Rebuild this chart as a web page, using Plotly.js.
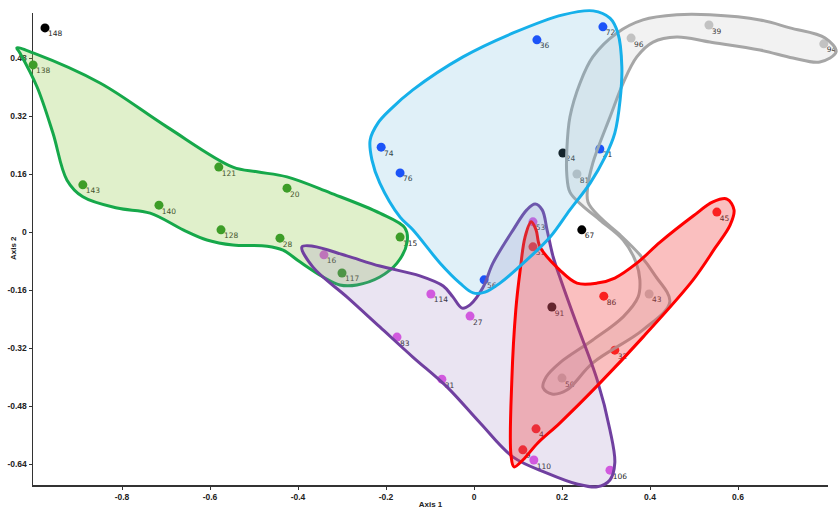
<!DOCTYPE html>
<html>
<head>
<meta charset="utf-8">
<script src="https://cdn.plot.ly/plotly-3.0.1.min.js"></script>
<style>html,body{margin:0;padding:0;background:#fff;}#chart{width:838px;height:509px;}</style>
</head>
<body>
<div id="chart"></div>
<script>
// ---- point data (Axis 1, Axis 2) ----
const blackLabels = ['148','24','67','91'];
const blackX = [-0.975, 0.202, 0.245, 0.177];
const blackY = [0.563, 0.218, 0.006, -0.207];

const greenLabels = ['138','143','121','20','140','128','28','115','117'];
const greenX = [-1.002, -0.889, -0.580, -0.425, -0.716, -0.575, -0.441, -0.168, -0.300];
const greenY = [0.461, 0.130, 0.179, 0.121, 0.074, 0.006, -0.017, -0.014, -0.113];

const blueLabels = ['36','72','74','76','21','56'];
const blueX = [0.143, 0.293, -0.211, -0.168, 0.286, 0.023];
const blueY = [0.530, 0.566, 0.234, 0.163, 0.229, -0.132];

const greyLabels = ['96','39','94','81','43','50'];
const greyX = [0.357, 0.534, 0.795, 0.234, 0.398, 0.200];
const greyY = [0.535, 0.571, 0.519, 0.160, -0.171, -0.403];

const redLabels = ['45','86','32','4','9','51'];
const redX = [0.552, 0.295, 0.320, 0.141, 0.111, 0.134];
const redY = [0.055, -0.177, -0.326, -0.543, -0.601, -0.041];

const pinkLabels = ['53','16','114','27','83','31','110','106'];
const pinkX = [0.134, -0.341, -0.098, -0.009, -0.175, -0.073, 0.136, 0.309];
const pinkY = [0.028, -0.063, -0.171, -0.232, -0.290, -0.406, -0.629, -0.657];

// ---- hull outlines (Axis 1, Axis 2) ----
const greenHullX = [-1.039,-1.002,-0.850,-0.698,-0.548,-0.493,-0.425,-0.327,-0.214,-0.157,-0.152,-0.175,-0.214,-0.266,-0.305,-0.343,-0.395,-0.434,-0.470,-0.548,-0.607,-0.661,-0.736,-0.811,-0.889,-0.925,-0.957,-0.993,-1.032];
const greenHullY = [0.508,0.494,0.411,0.290,0.179,0.166,0.152,0.108,0.052,0.011,-0.028,-0.086,-0.124,-0.146,-0.146,-0.124,-0.083,-0.050,-0.039,-0.036,-0.022,0.006,0.052,0.066,0.097,0.143,0.273,0.400,0.494];

const blueHullX = [0.089,0.202,0.271,0.309,0.327,0.336,0.332,0.320,0.298,0.264,0.218,0.173,0.120,0.059,0.025,-0.002,-0.032,-0.077,-0.139,-0.168,-0.214,-0.232,-0.236,-0.218,-0.191,-0.139,-0.025];
const blueHullY = [0.549,0.599,0.610,0.590,0.549,0.455,0.364,0.273,0.207,0.135,0.061,-0.014,-0.077,-0.141,-0.166,-0.168,-0.141,-0.086,0.006,0.041,0.135,0.199,0.254,0.301,0.337,0.392,0.483];

const greyHullX = [0.325,0.270,0.241,0.218,0.211,0.211,0.218,0.245,0.286,0.339,0.368,0.377,0.373,0.339,0.270,0.195,0.164,0.157,0.177,0.211,0.270,0.384,0.445,0.411,0.377,0.332,0.286,0.259,0.259,0.270,0.280,0.309,0.339,0.370,0.407,0.461,0.536,0.650,0.725,0.786,0.823,0.798,0.718,0.650,0.536,0.461,0.384];
const greyHullY = [0.549,0.483,0.411,0.317,0.226,0.157,0.110,0.074,0.033,-0.022,-0.083,-0.132,-0.179,-0.234,-0.298,-0.361,-0.400,-0.430,-0.447,-0.436,-0.361,-0.270,-0.193,-0.119,-0.063,-0.008,0.041,0.083,0.130,0.190,0.226,0.317,0.411,0.483,0.524,0.538,0.524,0.502,0.480,0.469,0.497,0.535,0.563,0.585,0.599,0.599,0.585];

const redHullX = [0.130,0.141,0.150,0.195,0.234,0.280,0.320,0.370,0.423,0.498,0.543,0.575,0.591,0.582,0.548,0.498,0.384,0.286,0.195,0.145,0.111,0.091,0.084,0.086,0.095,0.105,0.116];
const redHullY = [0.028,0.006,-0.041,-0.105,-0.141,-0.141,-0.127,-0.086,-0.028,0.044,0.083,0.091,0.061,0.019,-0.044,-0.132,-0.290,-0.417,-0.527,-0.582,-0.629,-0.648,-0.615,-0.408,-0.215,-0.105,-0.014];

const purpleHullX = [-0.391,-0.366,-0.289,-0.214,-0.123,-0.070,-0.048,-0.027,-0.009,0.020,0.043,0.089,0.120,0.139,0.155,0.166,0.180,0.195,0.230,0.280,0.309,0.320,0.309,0.280,0.234,0.166,0.089,0.014,-0.061,-0.139,-0.214,-0.289,-0.366];
const purpleHullY = [-0.041,-0.039,-0.066,-0.094,-0.121,-0.149,-0.179,-0.210,-0.201,-0.154,-0.086,0.006,0.061,0.077,0.061,0.006,-0.069,-0.124,-0.243,-0.408,-0.546,-0.637,-0.684,-0.703,-0.695,-0.665,-0.621,-0.527,-0.428,-0.345,-0.262,-0.179,-0.097];

// ---- axis ticks ----
const xTickVals = [-0.8,-0.6,-0.4,-0.2,0,0.2,0.4,0.6];
const xTickText = ['-0.8','-0.6','-0.4','-0.2','0','0.2','0.4','0.6'];
const yTickVals = [0.48,0.32,0.16,0,-0.16,-0.32,-0.48,-0.64];
const yTickText = ['0.48','0.32','0.16','0','-0.16','-0.32','-0.48','-0.64'];

function closeRing(a){ return a.concat([a[0]]); }

const labelFont = {family:'DejaVu Sans, sans-serif', size:7.5, color:'#262626'};
function pts(x,y,color){
  return {type:'scatter', mode:'markers', x:x, y:y, cliponaxis:false,
    marker:{size:9, color:color}, xaxis:'x2', yaxis:'y2', hoverinfo:'skip', showlegend:false};
}
function labels(x,y,txt){
  return {type:'scatter', mode:'markers+text', x:x, y:y, text:txt, cliponaxis:false,
    textposition:'bottom right', textfont:labelFont,
    marker:{size:3, opacity:0, color:'#000'},
    xaxis:'x2', yaxis:'y2', hoverinfo:'skip', showlegend:false};
}
function hull(x,y,line,fill){
  return {type:'scatter', mode:'lines', x:closeRing(x), y:closeRing(y), fill:'toself',
    fillcolor:fill, line:{color:line, width:3, shape:'spline', smoothing:1},
    xaxis:'x2', yaxis:'y2', hoverinfo:'skip', showlegend:false};
}

const traces = [
  {type:'scatter', mode:'markers', x:[], y:[], xaxis:'x', yaxis:'y', showlegend:false},
  pts(blackX, blackY, '#000000'),
  pts(greenX, greenY, '#1e8c1e'),
  pts(blueX, blueY, '#0a3cff'),
  pts(greyX, greyY, '#c6c6c6'),
  pts(redX, redY, '#ff1414'),
  pts(pinkX, pinkY, '#e052e6'),
  labels(blackX, blackY, blackLabels),
  labels(greenX, greenY, greenLabels),
  labels(blueX, blueY, blueLabels),
  labels(greyX, greyY, greyLabels),
  labels(redX, redY, redLabels),
  labels(pinkX, pinkY, pinkLabels),
  hull(greyHullX, greyHullY, '#a6a6a6', 'rgba(175,175,175,0.17)'),
  hull(greenHullX, greenHullY, '#16a84a', 'rgba(145,200,70,0.28)'),
  hull(purpleHullX, purpleHullY, '#7040a0', 'rgba(150,120,190,0.2)'),
  hull(redHullX, redHullY, '#ff0000', 'rgba(240,60,60,0.33)'),
  hull(blueHullX, blueHullY, '#16b0ea', 'rgba(100,180,220,0.2)')
];

const tickFont = {family:'Liberation Sans, Arial, sans-serif', size:8.5, color:'#222222', weight:'bold'};
const titleFont = {family:'Liberation Sans, Arial, sans-serif', size:8, color:'#222222', weight:'bold'};

const layout = {
  width:838, height:509,
  margin:{l:0, r:0, t:0, b:0},
  paper_bgcolor:'#ffffff', plot_bgcolor:'rgba(0,0,0,0)',
  showlegend:false,
  xaxis:{domain:[33/838, 828/838], range:[-1.00227, 0.80455], anchor:'y',
    showline:true, linecolor:'#333333', linewidth:1.5, showgrid:false, zeroline:false,
    ticks:'outside', ticklen:3, tickwidth:1, tickcolor:'#333333',
    tickmode:'array', tickvals:xTickVals, ticktext:xTickText, tickfont:tickFont,
    title:{text:'Axis 1', font:titleFont, standoff:2}, fixedrange:true},
  yaxis:{domain:[24/509, 496/509], range:[-0.69793, 0.60414], anchor:'x',
    showline:true, linecolor:'#333333', linewidth:1.5, showgrid:false, zeroline:false,
    ticks:'outside', ticklen:3, tickwidth:1, tickcolor:'#333333',
    tickmode:'array', tickvals:yTickVals, ticktext:yTickText, tickfont:tickFont,
    fixedrange:true},
  xaxis2:{domain:[0,1], range:[-1.07727, 0.82727], anchor:'y2', visible:false, fixedrange:true},
  yaxis2:{domain:[0,1], range:[-0.76414, 0.64], anchor:'x2', visible:false, fixedrange:true},
  annotations:[{text:'Axis 2', xref:'paper', yref:'paper', x:13/838, y:(509-248)/509,
    xanchor:'center', yanchor:'middle', textangle:-90, showarrow:false, font:titleFont}]
};

Plotly.newPlot('chart', traces, layout, {staticPlot:true, displayModeBar:false});
</script>
</body>
</html>
